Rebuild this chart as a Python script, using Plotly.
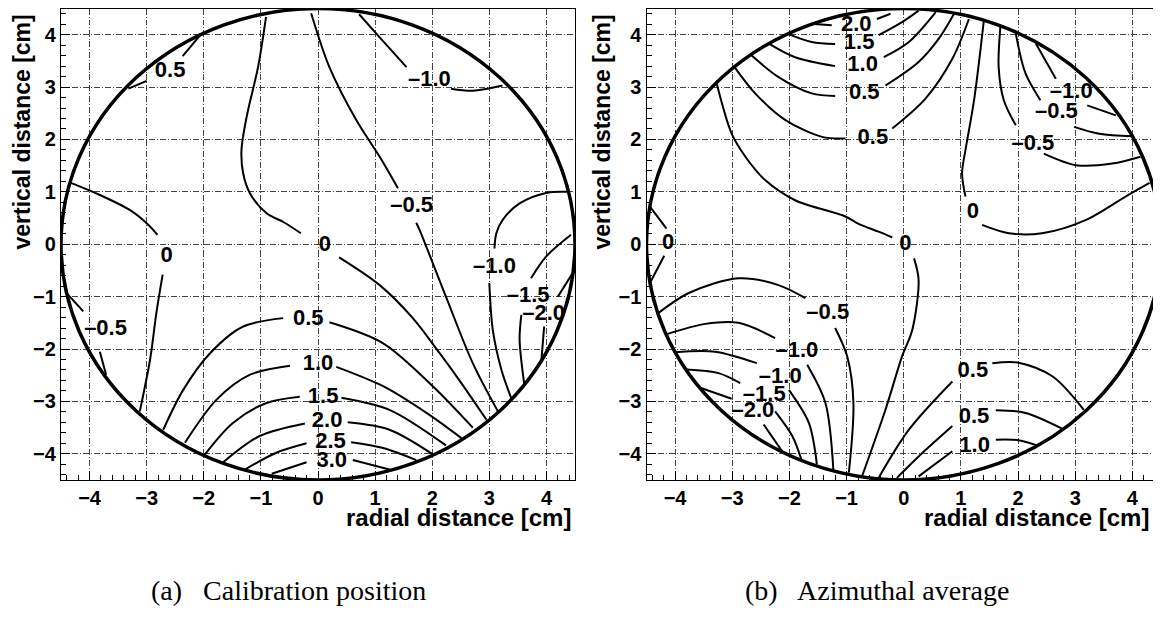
import plotly.graph_objects as go

# ---------------- data ----------------
R = 4.5                      # radius of the cell [cm]
TICK_VALUES = [-4, -3, -2, -1, 0, 1, 2, 3, 4]

# Panel (a) "Calibration position": contour polylines, None = gap under label
a_lines_x = [
    [-2.04, -2.37, None, -3.00, -3.32],                                   # 0.5 top-left
    [-4.35, -3.82, -3.29, -3.00, -2.81, None, -2.72, -2.83, -2.94, -3.12],  # 0 left
    [-0.91, -1.05, -1.25, -1.34, -1.31, -1.19, -0.90, -0.60, -0.30, None,
     0.37, 1.08, 1.66, 2.13, 2.51, 2.95],                                 # 0 centre
    [-0.12, 0.20, 0.67, 1.08, 1.40, None, 1.72, 1.78, 2.24, 2.71, 3.15],   # -0.5
    [0.72, 1.08, 1.55, None, 2.33, 2.71, 3.23],                            # -1.0 top
    [4.37, 3.99, 3.53, 3.23, 3.12, 3.09, None, 3.00, 3.06, 3.21, 3.38],    # -1.0 right
    [4.43, 3.99, 3.73, None, 3.56, 3.53, 3.61],                            # -1.5
    [4.46, 4.20, None, 3.96, 3.91],                                        # -2.0
    [-4.43, -4.11, None, -3.82, -3.71],                                    # -0.5 left
    [-2.71, -2.36, -1.89, -1.31, -0.61, None, 0.20, 1.14, 2.01, 2.71],     # 0.5
    [-2.33, -1.78, -1.19, -0.49, None, 0.32, 1.14, 1.90, 2.51],            # 1.0
    [-1.98, -1.49, -0.90, -0.32, None, 0.41, 1.25, 2.24],                  # 1.5
    [-1.66, -1.02, -0.23, None, 0.52, 1.25, 2.01],                         # 2.0
    [-1.28, -0.73, -0.20, None, 0.58, 1.14, 1.72],                         # 2.5
    [-0.81, -0.20, None, 0.61, 1.25],                                      # 3.0
]
a_lines_y = [
    [4.02, 3.59, None, 3.12, 2.97],
    [1.18, 0.94, 0.65, 0.40, 0.18, None, -0.58, -1.31, -2.20, -3.19],
    [4.34, 3.38, 2.43, 1.80, 1.35, 0.97, 0.59, 0.42, 0.21, None,
     -0.25, -0.78, -1.41, -2.08, -2.65, -3.35],
    [4.41, 3.38, 2.37, 1.67, 1.07, None, 0.41, 0.27, -1.00, -2.27, -3.19],
    [4.39, 3.95, 3.38, None, 2.97, 2.93, 3.03],
    [1.00, 0.98, 0.78, 0.46, 0.20, -0.08, None, -0.74, -1.63, -2.39, -2.93],
    [0.18, -0.24, -0.65, None, -1.35, -1.82, -2.66],
    [-0.55, -1.00, None, -1.57, -2.24],
    [-0.90, -1.28, None, -2.05, -2.49],
    [-3.54, -2.78, -2.08, -1.57, -1.41, None, -1.49, -1.89, -2.71, -3.50],
    [-3.79, -2.97, -2.49, -2.32, None, -2.34, -2.71, -3.22, -3.70],
    [-4.01, -3.41, -3.03, -2.91, None, -2.93, -3.16, -3.84],
    [-4.16, -3.66, -3.42, None, -3.40, -3.54, -4.01],
    [-4.30, -3.98, -3.80, None, -3.78, -3.89, -4.12],
    [-4.38, -4.16, None, -4.12, -4.30],
]
a_label_x = [-2.59, -2.65, 0.12, 1.64, 1.95, 3.09, 3.68, 3.95, -3.72,
             -0.17, 0.00, 0.09, 0.16, 0.22, 0.24]
a_label_y = [3.30, -0.24, -0.03, 0.72, 3.13, -0.45, -1.00, -1.35, -1.63,
             -1.44, -2.30, -2.93, -3.38, -3.79, -4.14]
a_label_text = ["0.5", "0", "0", "\u20130.5", "\u20131.0", "\u20131.0", "\u20131.5",
                "\u20132.0", "\u20130.5", "0.5", "1.0", "1.5", "2.0", "2.5", "3.0"]

# Panel (b) "Azimuthal average"
b_lines_x = [
    [-1.63, -1.26, None, -0.47, -0.23],                                    # 2.0
    [-2.04, -1.61, -1.20, None, -0.44, -0.03, 0.26],                       # 1.5
    [-2.36, -1.90, -1.20, None, -0.35, 0.09, 0.56],                        # 1.0
    [-2.68, -2.19, -1.61, -1.20, None, -0.32, 0.26, 0.61, 0.88],           # 0.5 (upper)
    [-2.96, -2.60, -2.07, -1.43, -1.02, None, -0.20, 0.38, 0.85, 1.14],    # 0.5 (lower)
    [-3.28, -3.01, -2.77, -2.42, -1.90, -1.02, -0.79, -0.44, -0.20, None,
     0.18, 0.26, 0.15, -0.03, -0.32, -0.73],                              # 0 big
    [1.40, 1.23, 1.08, 1.02, 1.08, None, 1.37, 1.84, 2.42, 3.18, 3.88, 4.30],  # 0 right
    [1.69, 1.66, 1.75, 1.96, None, 2.45, 3.01, 3.65, 4.14],                # -0.5
    [1.96, 2.13, 2.39, None, 2.98, 3.42, 4.00],                            # -0.5
    [2.31, 2.66, None, 3.21, 3.71],                                        # -1.0
    [-4.44, -4.15, None, -4.19, -4.44],                                    # 0 left
    [-4.29, -3.76, -2.89, -2.19, -1.72, None, -1.20, -0.99, -0.88, -0.96], # -0.5
    [-4.13, -3.47, -2.89, -2.25, None, -1.69, -1.37, -1.23],               # -1.0
    [-4.01, -3.30, -2.57, None, -2.01, -1.66, -1.52],                      # -1.0
    [-3.80, -3.24, -2.86, None, -2.25, -1.95, -1.79],                      # -1.5
    [-3.56, -3.01, None, -2.45, -2.13],                                    # -2.0
    [-0.44, 0.09, 0.85, None, 1.55, 2.01, 2.60, 3.15],                     # 0.5
    [-0.12, 0.26, 0.85, None, 1.61, 2.13, 2.77],                           # 0.5
    [0.26, 0.85, None, 1.61, 2.01, 2.33],                                  # 1.0
]
b_lines_y = [
    [4.21, 4.18, None, 4.30, 4.40],
    [4.02, 3.86, 3.82, None, 3.99, 4.24, 4.46],
    [3.83, 3.57, 3.40, None, 3.57, 3.86, 4.43],
    [3.62, 3.19, 2.88, 2.83, None, 3.03, 3.48, 3.92, 4.40],
    [3.38, 2.88, 2.37, 2.05, 2.02, None, 2.21, 2.78, 3.54, 4.30],
    [3.10, 2.11, 1.67, 1.22, 0.84, 0.53, 0.39, 0.24, 0.13, None,
     -0.27, -0.68, -1.63, -2.14, -3.16, -4.43],
    [4.26, 2.75, 1.80, 1.35, 0.91, None, 0.37, 0.21, 0.21, 0.46, 0.91, 1.17],
    [4.15, 3.38, 2.75, 2.27, None, 1.73, 1.51, 1.54, 1.67],
    [4.02, 3.26, 2.75, None, 2.24, 2.11, 2.06],
    [3.83, 3.16, None, 2.65, 2.46],
    [0.72, 0.30, None, -0.22, -0.74],
    [-1.31, -0.93, -0.65, -0.78, -1.03, None, -1.60, -2.14, -3.03, -4.36],
    [-1.71, -1.52, -1.50, -1.79, None, -2.30, -3.03, -4.33],
    [-2.06, -2.05, -2.27, None, -2.78, -3.41, -4.20],
    [-2.39, -2.46, -2.65, None, -3.19, -3.66, -4.11],
    [-2.74, -2.95, None, -3.44, -3.95],
    [-4.46, -3.54, -2.62, None, -2.27, -2.26, -2.52, -3.16],
    [-4.46, -4.05, -3.47, None, -3.17, -3.22, -3.52],
    [-4.43, -3.95, None, -3.73, -3.74, -3.84],
]
b_label_x = [-0.83, -0.78, -0.72, -0.69, -0.54, 0.03, 1.21, 2.26, 2.67, 2.93,
             -4.12, -1.33, -1.87, -2.16, -2.44, -2.64, 1.21, 1.23, 1.24]
b_label_y = [4.18, 3.83, 3.42, 2.88, 2.01, -0.01, 0.61, 1.91, 2.51, 2.89,
             0.02, -1.32, -2.05, -2.55, -2.89, -3.19, -2.43, -3.31, -3.86]
b_label_text = ["2.0", "1.5", "1.0", "0.5", "0.5", "0", "0", "\u20130.5", "\u20130.5",
                "\u20131.0", "0", "\u20130.5", "\u20131.0", "\u20131.0", "\u20131.5",
                "\u20132.0", "0.5", "0.5", "1.0"]

X_TITLE = "radial distance [cm]"
Y_TITLE = "vertical distance [cm]"
CAPTIONS = ["(a)\u2002 Calibration position", "(b)\u2002 Azimuthal average"]

# ---------------- figure ----------------
# the page body keeps the browser's default 8 px margin, so the figure is
# placed 8 px in from the window's top-left corner
OFF = 8
W, H = 1161 - OFF, 621 - OFF
SANS = "Liberation Sans"
SERIF = "Liberation Serif"


def px(x):
    return (x - OFF) / W


def py(y):
    return 1 - (y - OFF) / H


def flatten(lines):
    out = []
    for ln in lines:
        out.extend(ln)
        out.append(None)
    return out


fig = go.Figure()

panels = [
    ("x", "y", a_lines_x, a_lines_y, a_label_x, a_label_y, a_label_text),
    ("x2", "y2", b_lines_x, b_lines_y, b_label_x, b_label_y, b_label_text),
]
for xa, ya, lx, ly, tx, ty, tt in panels:
    fig.add_trace(go.Scatter(
        x=flatten(lx), y=flatten(ly), mode="lines", connectgaps=False,
        line=dict(color="black", width=2, shape="spline", smoothing=0.9),
        hoverinfo="skip", showlegend=False, xaxis=xa, yaxis=ya))
    fig.add_trace(go.Scatter(
        x=tx, y=ty, text=tt, mode="text", textposition="middle center",
        textfont=dict(family=SANS, size=22, color="black", weight="bold"),
        hoverinfo="skip", showlegend=False, xaxis=xa, yaxis=ya))
    fig.add_shape(type="circle", xref=xa, yref=ya, x0=-R, y0=-R, x1=R, y1=R,
                  line=dict(color="black", width=3.5), layer="above")

axis_common = dict(
    range=[-R, R], tickmode="array", tickvals=TICK_VALUES,
    ticks="inside", ticklen=9, tickwidth=1, tickcolor="black",
    showline=True, linecolor="black", linewidth=1.2, mirror=True,
    showgrid=True, gridcolor="#444444", gridwidth=1, griddash="6px,2px,1px,2px",
    zeroline=False, fixedrange=True,
    tickfont=dict(family=SANS, size=20, color="black", weight="bold"),
    minor=dict(ticks="inside", ticklen=5, tickcolor="black", dtick=0.2,
               tick0=0, showgrid=False),
)

y_dom = [py(480), py(8.5)]
fig.update_layout(
    width=W, height=H, margin=dict(l=0, r=0, t=0, b=0),
    paper_bgcolor="white", plot_bgcolor="white",
    xaxis=dict(domain=[px(61), px(575)], anchor="y", **axis_common),
    yaxis=dict(domain=y_dom, anchor="x", **axis_common),
    xaxis2=dict(domain=[px(646.5), 1.0], anchor="y2", **axis_common),
    yaxis2=dict(domain=y_dom, anchor="x2", **axis_common),
)

ann = []
for x_right, y_x in [(573, 22), (1151, 602)]:
    ann.append(dict(text=X_TITLE, xref="paper", yref="paper",
                    x=px(x_right), y=py(517), xanchor="right", yanchor="middle",
                    showarrow=False,
                    font=dict(family=SANS, size=24, color="black", weight="bold")))
    ann.append(dict(text=Y_TITLE, xref="paper", yref="paper",
                    x=px(y_x), y=py(13), xanchor="center", yanchor="top",
                    textangle=-90, showarrow=False,
                    font=dict(family=SANS, size=23, color="black", weight="bold")))
for cx, cap in zip([288, 877], CAPTIONS):
    ann.append(dict(text=cap, xref="paper", yref="paper", x=px(cx), y=py(590),
                    xanchor="center", yanchor="middle", showarrow=False,
                    font=dict(family=SERIF, size=28, color="black")))
fig.update_layout(annotations=ann)

fig.write_html("out.html")
